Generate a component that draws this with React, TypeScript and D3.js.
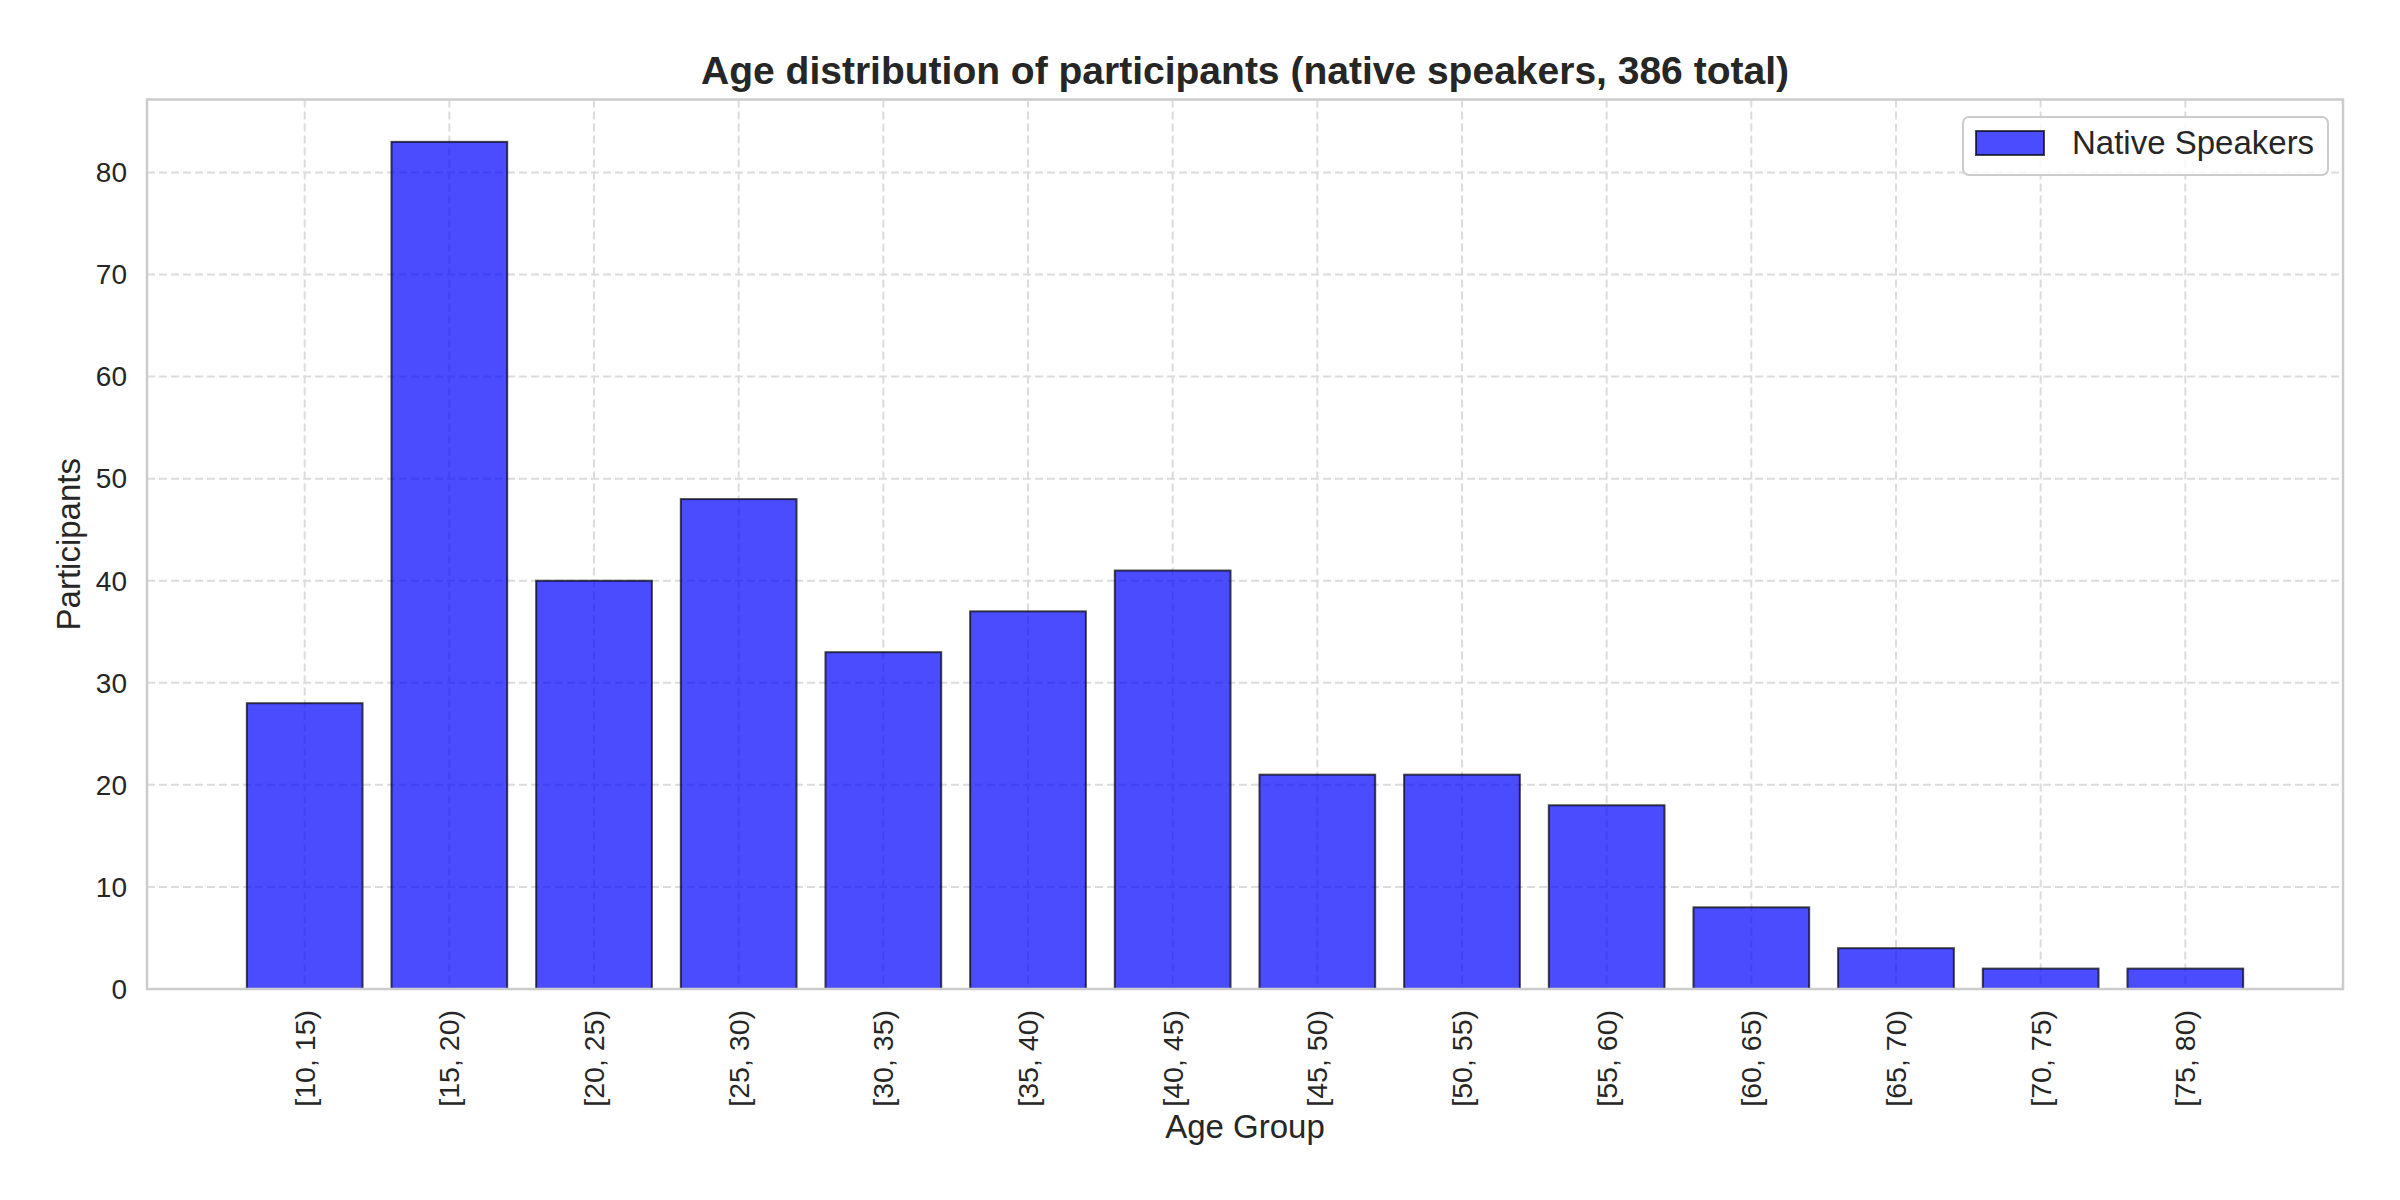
import * as d3 from "d3";
import React from "react";

// age bins and counts (native speakers)
const ageGroups = ["[10, 15)", "[15, 20)", "[20, 25)", "[25, 30)", "[30, 35)", "[35, 40)", "[40, 45)", "[45, 50)", "[50, 55)", "[55, 60)", "[60, 65)", "[65, 70)", "[70, 75)", "[75, 80)"];
const participants = [28, 83, 40, 48, 33, 37, 41, 21, 21, 18, 8, 4, 2, 2];
const yTicks = [0, 10, 20, 30, 40, 50, 60, 70, 80];
const seriesName = "Native Speakers";
const titleText = "Age distribution of participants (native speakers, 386 total)";

const W = 2400;
const H = 1200;
const margin = { top: 99.5, right: 57, bottom: 211, left: 147 };
const font = "'Liberation Sans', Arial, sans-serif";
const textColor = "#262626";

export default function App() {
  const innerW = W - margin.left - margin.right;
  const innerH = H - margin.top - margin.bottom;
  const barWidth = 0.8;
  const pad = 0.05 * (ageGroups.length - 1 + barWidth);

  // numeric x like matplotlib's bar positions with default margins
  const x = d3.scaleLinear()
    .domain([-barWidth / 2 - pad, ageGroups.length - 1 + barWidth / 2 + pad])
    .range([0, innerW]);
  const yMax = d3.max(participants) * 1.05;
  const y = d3.scaleLinear().domain([0, yMax]).range([innerH, 0]);
  const bw = x(barWidth) - x(0);

  return (
    <div style={{ position: "absolute", left: 0, top: 0 }}>
      <svg width={W} height={H} style={{ display: "block", background: "#fff" }} fontFamily={font}>
        <text x={margin.left + innerW / 2} y={84} textAnchor="middle" fontSize={39} fontWeight="bold" fill={textColor}>
          {titleText}
        </text>
        <g transform={`translate(${margin.left},${margin.top})`}>
          {/* grid */}
          {yTicks.map((t) => (
            <line key={"gy" + t} x1={0} x2={innerW} y1={y(t)} y2={y(t)} stroke="#dcdcdc" strokeWidth={2} strokeDasharray="8,4" />
          ))}
          {ageGroups.map((g, i) => (
            <line key={"gx" + g} x1={x(i)} x2={x(i)} y1={0} y2={innerH} stroke="#dcdcdc" strokeWidth={2} strokeDasharray="8,4" />
          ))}
          {/* bars */}
          {participants.map((v, i) => (
            <rect
              key={ageGroups[i]}
              x={x(i) - bw / 2}
              y={y(v)}
              width={bw}
              height={innerH - y(v)}
              fill="rgb(0,0,255)"
              fillOpacity={0.7}
              stroke="rgba(0,0,0,0.7)"
              strokeWidth={2}
            />
          ))}
          {/* spines */}
          <rect x={0} y={0} width={innerW} height={innerH} fill="none" stroke="#cccccc" strokeWidth={2.5} />
          {/* y tick labels */}
          {yTicks.map((t) => (
            <text key={"yt" + t} x={-20} y={y(t)} dy="0.35em" textAnchor="end" fontSize={28} fill={textColor}>
              {t}
            </text>
          ))}
          {/* x tick labels */}
          {ageGroups.map((g, i) => (
            <text
              key={"xt" + g}
              transform={`translate(${x(i)},${innerH + 21}) rotate(-90)`}
              dy="0.35em"
              textAnchor="end"
              fontSize={28.5}
              fill={textColor}
            >
              {g}
            </text>
          ))}
          {/* legend */}
          <g transform={`translate(${innerW - 380},${117 - margin.top})`}>
            <rect x={0} y={0} width={365} height={58} rx={6} fill="rgba(255,255,255,0.8)" stroke="#cccccc" strokeWidth={2} />
            <rect x={13} y={14} width={68} height={24} fill="rgb(0,0,255)" fillOpacity={0.7} stroke="rgba(0,0,0,0.7)" strokeWidth={2} />
            <text x={109} y={37} fontSize={33} fill={textColor}>{seriesName}</text>
          </g>
        </g>
        <text x={margin.left + innerW / 2} y={1138} textAnchor="middle" fontSize={33} fill={textColor}>Age Group</text>
        <text transform={`translate(80,${margin.top + innerH / 2}) rotate(-90)`} textAnchor="middle" fontSize={33} fill={textColor}>
          Participants
        </text>
      </svg>
    </div>
  );
}
